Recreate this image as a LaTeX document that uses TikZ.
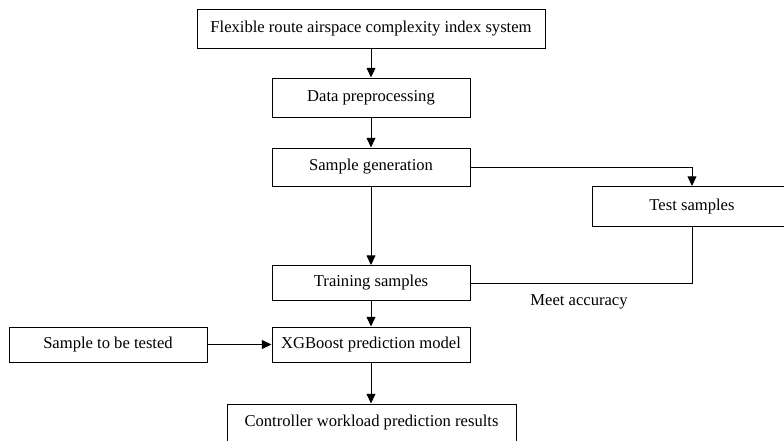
\documentclass[tikz,border=0pt]{standalone}
\usepackage{fontspec}
\setmainfont{Liberation Serif}
\usepackage{tikz}
\usetikzlibrary{arrows.meta}
\tikzset{
  box/.style={draw,line width=0.7pt,inner sep=0pt,minimum width=198*0.025cm},
  every node/.style={font=\fontsize{11.8}{14}\selectfont}
}
\tikzstyle{arrow} = [line width=0.7pt,-{Triangle[length=2.4mm,width=2.2mm]}]
\tikzstyle{link} = [line width=0.7pt]

\begin{document}
\begin{tikzpicture}[x=0.025cm,y=-0.025cm]
  \clip (0,0) rectangle (784,441);
  % main chain
  \node[box,minimum width=348*0.025cm,minimum height=39*0.025cm] (index) at (371,28.5) {Flexible route airspace complexity index system};
  \node[box,minimum height=39*0.025cm] (prep) at (371,97.5) {Data preprocessing};
  \node[box,minimum height=38*0.025cm] (gen) at (371,167) {Sample generation};
  \node[box,minimum height=35*0.025cm] (train) at (371,283) {Training samples};
  \node[box,minimum height=35*0.025cm] (model) at (371,344.5) {XGBoost prediction model};
  \node[box,minimum width=289*0.025cm,minimum height=38*0.025cm] (result) at (371.5,423) {Controller workload prediction results};
  % side boxes
  \node[box,minimum width=200*0.025cm,minimum height=40*0.025cm] (test) at (692,206.5) {Test samples};
  \node[box,minimum height=35*0.025cm] (query) at (108,344.5) {Sample to be tested};
  \node (meet) at (579,302) {Meet accuracy};
  % connectors
  \draw[arrow] (index) -- (prep);
  \draw[arrow] (prep) -- (gen);
  \draw[arrow] (gen) -- (train);
  \draw[arrow] (gen.east) -| (test.north);
  \draw[link] (test.south) |- (train.east);
  \draw[arrow] (train) -- (model);
  \draw[arrow] (query) -- (model);
  \draw[arrow] (model) -- (model |- result.north);
\end{tikzpicture}
\end{document}
